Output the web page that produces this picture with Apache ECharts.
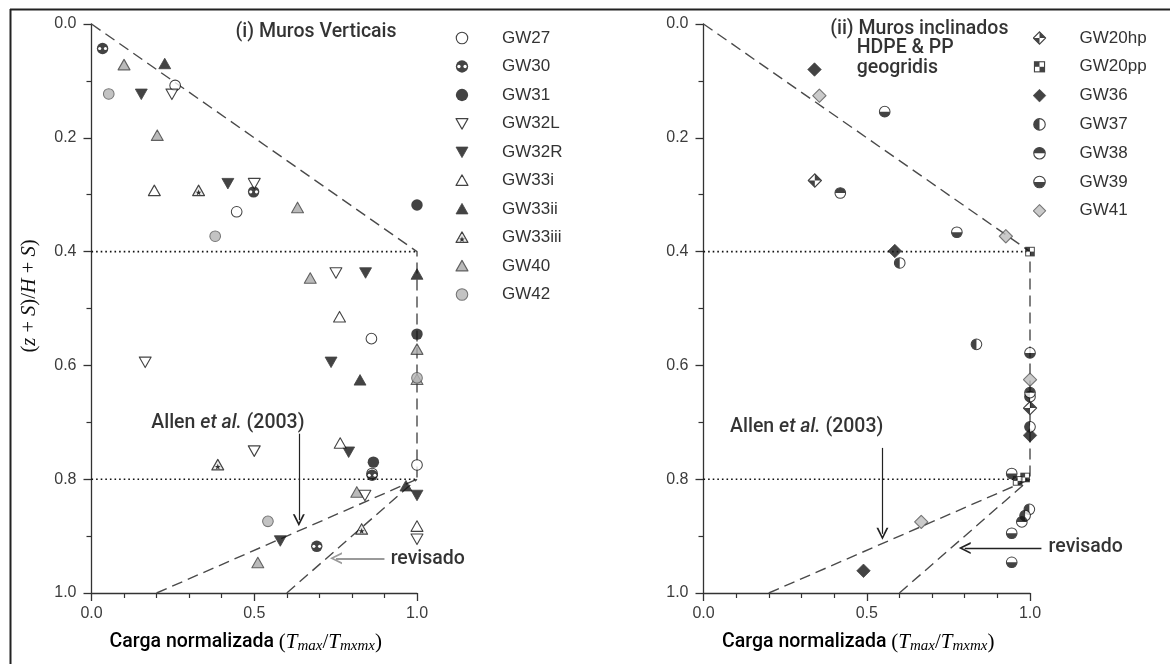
<!DOCTYPE html>
<html><head><meta charset="utf-8">
<script src="https://cdn.jsdelivr.net/npm/echarts@6/dist/echarts.min.js"></script>
<style>html,body{margin:0;padding:0;background:#fff}#c{width:1170px;height:664px}</style>
</head><body><div id="c"></div>
<script>
// ---------- tick labels ----------
const xTickLabels = ['0.0', '0.5', '1.0'];
const yTickLabels = ['0.0', '0.2', '0.4', '0.6', '0.8', '1.0'];

// ---------- (i) vertical walls ----------
const leftNames = ['GW27','GW30','GW31','GW32L','GW32R','GW33i','GW33ii','GW33iii','GW40','GW42'];
const gw27 = [[0.257,0.108],[0.446,0.330],[0.86,0.553],[0.862,0.790],[1.0,0.775]];
const gw30 = [[0.034,0.043],[0.498,0.295],[0.862,0.793],[0.692,0.918]];
const gw31 = [[1.0,0.318],[1.0,0.545],[0.866,0.770]];
const gw32L = [[0.247,0.123],[0.50,0.280],[0.751,0.437],[0.165,0.594],[0.50,0.750],[0.84,0.828],[1.0,0.905]];
const gw32R = [[0.153,0.123],[0.419,0.280],[0.842,0.437],[0.736,0.594],[0.79,0.752],[1.0,0.828],[0.58,0.908]];
const gw33i = [[0.193,0.293],[0.762,0.515],[0.764,0.737],[1.0,0.883]];
const gw33ii = [[0.225,0.070],[1.0,0.440],[0.825,0.626],[0.966,0.812]];
const gw33iii = [[0.329,0.293],[0.388,0.775],[0.83,0.888]];
const gw40 = [[0.10,0.072],[0.202,0.196],[0.633,0.323],[0.672,0.447],[1.0,0.572],[1.0,0.625],[0.815,0.823],[0.511,0.947]];
const gw42 = [[0.053,0.123],[0.38,0.373],[1.0,0.622],[0.542,0.874]];
const leftData = [gw27,gw30,gw31,gw32L,gw32R,gw33i,gw33ii,gw33iii,gw40,gw42];

// ---------- (ii) inclined walls ----------
const rightNames = ['GW20hp','GW20pp','GW36','GW37','GW38','GW39','GW41'];
const gw20hp = [[0.341,0.275],[1.0,0.675]];
const gw20pp = [[1.0,0.40],[0.985,0.797],[0.962,0.803]];
const gw36 = [[0.340,0.080],[0.586,0.399],[1.0,0.723],[0.49,0.961]];
const gw37 = [[0.601,0.42],[0.836,0.563],[1.0,0.655],[1.0,0.708],[0.998,0.853],[0.985,0.864]];
const gw38 = [[0.419,0.297],[1.0,0.648],[0.975,0.875]];
const gw39 = [[0.555,0.154],[0.776,0.366],[1.0,0.578],[0.944,0.790],[0.944,0.895],[0.944,0.946]];
const gw41 = [[0.355,0.126],[0.926,0.373],[1.0,0.625],[0.667,0.875]];
const rightData = [gw20hp,gw20pp,gw36,gw37,gw38,gw39,gw41];

// ---------- reference lines (same in both panels) ----------
const envelopeLine = [[0,0],[1,0.4],[1,0.8]];
const allenLine = [[0.2,1],[1,0.8]];
const revisedLine = [[0.6,1],[1,0.8]];
const dotLine04 = [[0,0.4],[1,0.4]];
const dotLine08 = [[0,0.8],[1,0.8]];

// arrows [from, to]
const arrowsLeft = [[[0.637,0.720],[0.637,0.872]], [[0.900,0.939],[0.751,0.939]]];
const arrowsRight = [[[0.548,0.745],[0.548,0.896]], [[1.035,0.921],[0.800,0.921]]];

// ---------- symbols ----------
function svg(body) {
  return 'image://data:image/svg+xml;charset=utf-8,' + encodeURIComponent(
    '<svg xmlns="http://www.w3.org/2000/svg" width="40" height="40" viewBox="0 0 20 20">' + body + '</svg>');
}
const K = '#151515';
const SYM = {
  GW27: svg('<circle cx="10" cy="10" r="8.2" fill="#fff" stroke="'+K+'" stroke-width="1.6"/>'),
  GW30: svg('<circle cx="10" cy="10" r="8.8" fill="'+K+'"/><circle cx="5.6" cy="10" r="2.4" fill="#fff"/><circle cx="14.4" cy="10" r="2.4" fill="#fff"/>'),
  GW31: svg('<circle cx="10" cy="10" r="8.8" fill="'+K+'"/>'),
  GW32L: svg('<polygon points="1.5,3 18.5,3 10,18" fill="#fff" stroke="'+K+'" stroke-width="1.6" stroke-linejoin="round"/>'),
  GW32R: svg('<polygon points="1.5,3 18.5,3 10,18" fill="'+K+'" stroke="'+K+'" stroke-width="1.2" stroke-linejoin="round"/>'),
  GW33i: svg('<polygon points="10,2 18.5,17 1.5,17" fill="#fff" stroke="'+K+'" stroke-width="1.6" stroke-linejoin="round"/>'),
  GW33ii: svg('<polygon points="10,2 18.5,17 1.5,17" fill="'+K+'" stroke="'+K+'" stroke-width="1.2" stroke-linejoin="round"/>'),
  GW33iii: svg('<polygon points="10,2 18.5,17 1.5,17" fill="#e4e4e4" stroke="'+K+'" stroke-width="1.6" stroke-linejoin="round"/><path d="M10,8.2 L11.1,11.3 L14.2,11.5 L11.8,13.3 L12.6,16.3 L10,14.6 L7.4,16.3 L8.2,13.3 L5.8,11.5 L8.9,11.3Z" fill="#000"/>'),
  GW40: svg('<polygon points="10,2 18.5,17 1.5,17" fill="#a9a9a9" stroke="#3a3a3a" stroke-width="1.6" stroke-linejoin="round"/>'),
  GW42: svg('<circle cx="10" cy="10" r="8.2" fill="#b5b5b5" stroke="#555" stroke-width="1.6"/>'),
  GW20hp: svg('<polygon points="10,1.2 18.8,10 10,18.8 1.2,10" fill="#fff" stroke="'+K+'" stroke-width="1.6"/><polygon points="10,1.2 18.8,10 10,10" fill="'+K+'"/><polygon points="1.2,10 10,10 10,18.8" fill="'+K+'"/>'),
  GW20pp: svg('<rect x="2" y="2" width="16" height="16" fill="'+K+'"/><rect x="10" y="3.6" width="6.4" height="6.4" fill="#fff"/><rect x="3.6" y="10" width="6.4" height="6.4" fill="#fff"/>'),
  GW36: svg('<polygon points="10,1 19,10 10,19 1,10" fill="'+K+'" stroke="'+K+'" stroke-width="1"/>'),
  GW37: svg('<circle cx="10" cy="10" r="8.2" fill="#fff" stroke="'+K+'" stroke-width="1.6"/><path d="M10,1.8 A8.2,8.2 0 0 0 10,18.2 Z" fill="'+K+'"/>'),
  GW38: svg('<circle cx="10" cy="10" r="8.2" fill="#fff" stroke="'+K+'" stroke-width="1.6"/><path d="M1.8,10 A8.2,8.2 0 0 1 18.2,10 Z" fill="'+K+'"/>'),
  GW39: svg('<circle cx="10" cy="10" r="8.2" fill="#fff" stroke="'+K+'" stroke-width="1.6"/><path d="M1.8,10 A8.2,8.2 0 0 0 18.2,10 Z" fill="'+K+'"/>'),
  GW41: svg('<polygon points="10,1.2 18.8,10 10,18.8 1.2,10" fill="#bdbdbd" stroke="#555" stroke-width="1.5"/>')
};
const SIZE = {GW27:13,GW30:13,GW31:13,GW32L:14,GW32R:14,GW33i:14,GW33ii:14,GW33iii:14,GW40:14,GW42:13,
  GW20hp:15,GW20pp:12,GW36:15,GW37:13,GW38:13,GW39:13,GW41:15};

// ---------- fonts ----------
const SANS = 'Roboto';
const ARIAL = 'Liberation Sans';
const SERIF = 'Liberation Serif';
const xNameRich = {
  n: {fontFamily: SANS, fontSize: 19.5, fontWeight: 500, color: '#000', lineHeight: 24, verticalAlign: 'middle'},
  p: {fontFamily: SERIF, fontSize: 21, color: '#000', lineHeight: 24, verticalAlign: 'middle'},
  i: {fontFamily: SERIF, fontStyle: 'italic', fontSize: 21, color: '#000', lineHeight: 24, verticalAlign: 'middle'},
  s: {fontFamily: SERIF, fontStyle: 'italic', fontSize: 15, color: '#000', lineHeight: 14, verticalAlign: 'bottom'}
};
const xNameText = '{n|Carga normalizada }{p|(}{i|T}{s|max}{p|/}{i|T}{s|mxmx}{p|)}';

const GRIDS = [
  {left: 91.5, top: 24, width: 325.5, height: 569},
  {left: 703.5, top: 24, width: 326.5, height: 569}
];

function xAxis(gi) {
  return {
    gridIndex: gi, type: 'value', min: 0, max: 1, interval: 0.5,
    axisLine: {show: true, onZero: false, lineStyle: {color: '#333', width: 1.3}},
    axisTick: {show: true, length: 8, lineStyle: {color: '#333', width: 1.3}},
    minorTick: {show: true, splitNumber: 5, length: 5, lineStyle: {color: '#333', width: 1.2}},
    splitLine: {show: false}, minorSplitLine: {show: false},
    axisLabel: {formatter: v => xTickLabels[Math.round(v / 0.5)], fontFamily: ARIAL, fontSize: 16, color: '#3c3c3c', margin: 13},
    name: xNameText, nameLocation: 'middle', nameGap: 37,
    nameTextStyle: {rich: xNameRich, padding: [0, 17, 0, 0]}
  };
}
function yAxis(gi) {
  return {
    gridIndex: gi, type: 'value', min: 0, max: 1, interval: 0.2, inverse: true,
    axisLine: {show: true, onZero: false, lineStyle: {color: '#333', width: 1.3}},
    axisTick: {show: true, length: 8, lineStyle: {color: '#333', width: 1.3}},
    minorTick: {show: true, splitNumber: 2, length: 5, lineStyle: {color: '#333', width: 1.2}},
    splitLine: {show: false}, minorSplitLine: {show: false},
    axisLabel: {formatter: v => yTickLabels[Math.round(v / 0.2)], fontFamily: ARIAL, fontSize: 16, color: '#3c3c3c', margin: 15}
  };
}

const series = [];
function refLines(gi) {
  const dash = {color: '#4a4a4a', width: 1.4, type: [11, 6]};
  const dot = {color: '#111', width: 1.6, type: [1.6, 3]};
  [[envelopeLine, dash], [allenLine, dash], [revisedLine, dash], [dotLine04, dot], [dotLine08, dot]].forEach(([d, ls]) => {
    series.push({type: 'line', xAxisIndex: gi, yAxisIndex: gi, data: d, symbol: 'none', silent: true,
      lineStyle: ls, z: 1, animation: false});
  });
}
refLines(0); refLines(1);

const chevron = 'path://M5,0 L10,12 L8.4,12 L5,3.6 L1.6,12 L0,12 Z';
function arrows(gi, list, colors, widths) {
  list.forEach((a, k) => {
    series.push({type: 'lines', coordinateSystem: 'cartesian2d', xAxisIndex: gi, yAxisIndex: gi, clip: false,
      silent: true, z: 3, symbol: ['none', chevron], symbolSize: [9, 12],
      lineStyle: {color: colors[k], width: widths[k], opacity: 1},
      data: [{coords: a}]});
  });
}
arrows(0, arrowsLeft, ['#222', '#9a9a9a'], [1.2, 2]);
arrows(1, arrowsRight, ['#222', '#222'], [1.2, 1.4]);

leftNames.forEach((n, k) => series.push({name: n, type: 'scatter', xAxisIndex: 0, yAxisIndex: 0,
  symbol: SYM[n], symbolSize: SIZE[n], data: leftData[k], z: 5, clip: false}));
rightNames.forEach((n, k) => series.push({name: n, type: 'scatter', xAxisIndex: 1, yAxisIndex: 1,
  symbol: SYM[n], symbolSize: SIZE[n], data: rightData[k], z: 5, clip: false}));

// ---------- annotations (anchored in data coordinates) ----------
const annRich = {
  t: {fontFamily: SANS, fontSize: 19.5, fontWeight: 500, color: '#000'},
  it: {fontFamily: SANS, fontSize: 19.5, fontWeight: 500, fontStyle: 'italic', color: '#000'}
};
const annLeft = [
  {text: '{t|(i) Muros Verticais}', at: [0.69, 0.0135], align: 'center'},
  {text: '{t|Allen }{it|et al.}{t| (2003)}', at: [0.419, 0.701], align: 'center'},
  {text: '{t|revisado}', at: [0.919, 0.941], align: 'left'}
];
const annRight = [
  {text: '{t|(ii) Muros inclinados}', at: [0.388, 0.0088], align: 'left'},
  {text: '{t|HDPE & PP}', at: [0.469, 0.0417], align: 'left'},
  {text: '{t|geogridis}', at: [0.469, 0.078], align: 'left'},
  {text: '{t|Allen }{it|et al.}{t| (2003)}', at: [0.316, 0.708], align: 'center'},
  {text: '{t|revisado}', at: [1.057, 0.920], align: 'left'}
];
function annotations(gi, list) {
  series.push({type: 'scatter', xAxisIndex: gi, yAxisIndex: gi, silent: true, clip: false, z: 6,
    symbolSize: 1, itemStyle: {color: 'rgba(0,0,0,0)'},
    data: list.map(a => ({value: a.at, label: {show: true, position: 'inside', align: a.align, verticalAlign: 'middle',
      formatter: a.text, rich: annRich}}))});
}
annotations(0, annLeft); annotations(1, annRight);

const legendText = {fontFamily: ARIAL, fontSize: 17, color: '#333', lineHeight: 18, padding: [0, 0, 0, 28]};

const option = {
  animation: false,
  backgroundColor: '#fff',
  grid: GRIDS,
  xAxis: [xAxis(0), xAxis(1)],
  yAxis: [yAxis(0), yAxis(1)],
  legend: [
    {data: leftNames, orient: 'vertical', left: 450, top: 24, itemWidth: 14, itemHeight: 14, itemGap: 10.5,
      textStyle: legendText, selectedMode: false},
    {data: rightNames, orient: 'vertical', left: 1027.5, top: 24, itemWidth: 14, itemHeight: 14, itemGap: 10.8,
      textStyle: legendText, selectedMode: false}
  ],
  graphic: [
    {type: 'line', shape: {x1: 10.5, y1: 9, x2: 10.5, y2: 664}, style: {stroke: '#222', lineWidth: 2}, silent: true},
    {type: 'line', shape: {x1: 10, y1: 9.5, x2: 1170, y2: 9.5}, style: {stroke: '#222', lineWidth: 2}, silent: true},
    {type: 'text', x: 30, y: 296, rotation: Math.PI / 2, silent: true,
      style: {text: '{p|(}{i|z}{p| + }{i|S}{p|)/}{i|H}{p| + }{i|S}{p|)}', align: 'center', verticalAlign: 'middle',
        rich: {p: {fontFamily: SERIF, fontSize: 20.5, fill: '#111', color: '#111'},
               i: {fontFamily: SERIF, fontStyle: 'italic', fontSize: 20.5, fill: '#111', color: '#111'}}}}
  ],
  series: series
};

const chart = echarts.init(document.getElementById('c'), null, {renderer: 'canvas'});
chart.setOption(option);
</script></body></html>
